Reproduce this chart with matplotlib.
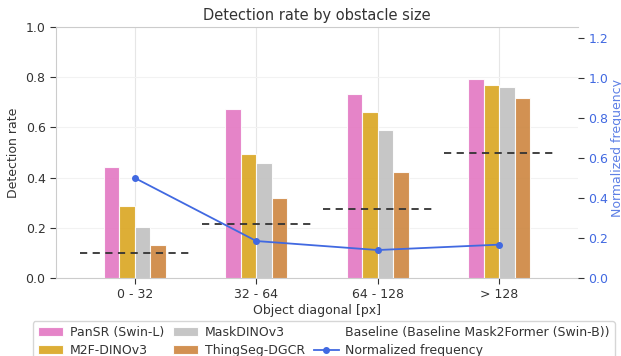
import numpy as np
import matplotlib
matplotlib.use("Agg")
from matplotlib import pyplot as plt
from matplotlib.lines import Line2D

# data
size_bins = ['0 - 32', '32 - 64', '64 - 128', '> 128']
pansr = [0.441, 0.673, 0.732, 0.795]
m2f_dino = [0.287, 0.494, 0.661, 0.768]
maskdino = [0.204, 0.458, 0.588, 0.762]
thingseg = [0.131, 0.317, 0.423, 0.718]
baseline = [0.101, 0.214, 0.275, 0.497]
norm_freq = [0.50, 0.185, 0.14, 0.167]

methods = ['PanSR (Swin-L)', 'M2F-DINOv3', 'MaskDINOv3', 'ThingSeg-DGCR']
series = [pansr, m2f_dino, maskdino, thingseg]
colors = ['#e377c2', 'goldenrod', 'silver', 'peru']

plt.rcParams['font.family'] = 'DejaVu Sans'
plt.rcParams['font.size'] = 9

fig = plt.figure(figsize=(6.21, 3.56), dpi=100)
ax = fig.add_axes([0.0902, 0.219, 0.8406, 0.705])

x = np.arange(len(size_bins))
w = 0.128
for i, (name, vals) in enumerate(zip(methods, series)):
    ax.bar(x + (i - 1.5) * w, vals, width=w, color=colors[i], alpha=0.9,
           edgecolor='white', linewidth=0.8, label=name, zorder=3)

# baseline as dashed segments per bin
for xi, b in zip(x, baseline):
    ax.hlines(b, xi - 0.45, xi + 0.45, colors='#333333', linestyles=(0, (4, 3)),
              linewidth=1.3, zorder=4)

ax.set_xlim(-0.65, 3.65)
ax.set_ylim(0, 1.0)
ax.set_xticks(x)
ax.set_xticklabels(size_bins)
ax.set_yticks(np.arange(0, 1.01, 0.2))
ax.set_ylabel('Detection rate', color='#333333')
ax.set_xlabel('Object diagonal [px]', color='#333333', labelpad=2)
ax.set_title('Detection rate by obstacle size', fontsize=10.5, color='#333333', pad=5)
ax.grid(True, color='#e6e6e6', linewidth=0.8, zorder=0)
ax.grid(True, axis='y', color='#f2f2f2', linewidth=0.8)
ax.set_axisbelow(True)
for s in ['left', 'bottom', 'top']:
    ax.spines[s].set_color('#cccccc')
ax.spines['right'].set_visible(False)
ax.tick_params(colors='#333333', length=4, labelcolor='#333333')

ax2 = ax.twinx()
ax2.plot(x, norm_freq, color='royalblue', marker='o', markersize=4,
         linewidth=1.3, zorder=5)
ax2.set_ylim(0, 1.255)
ax2.set_yticks(np.arange(0, 1.21, 0.2))
ax2.set_ylabel('Normalized frequency', color='royalblue', alpha=0.85)
ax2.yaxis.set_label_coords(1.064, 0.52)
ax2.tick_params(axis='y', colors='#333333', labelcolor='royalblue', length=4)
for s in ax2.spines.values():
    s.set_visible(False)
ax2.grid(False)

handles, labels = ax.get_legend_handles_labels()
handles.append(Line2D([], [], color='none'))
labels.append('Baseline (Baseline Mask2Former (Swin-B))')
handles.append(Line2D([], [], color='royalblue', marker='o', markersize=4, linewidth=1.3))
labels.append('Normalized frequency')
fig.legend(handles, labels, ncol=3, loc='upper left',
           bbox_to_anchor=(0.053, 0.0983), borderaxespad=0, frameon=True,
           edgecolor='#cccccc', fontsize=9, columnspacing=0.7, handletextpad=0.55,
           labelspacing=0.4, borderpad=0.4, labelcolor='#333333')

fig.savefig('out.png', dpi=100)
